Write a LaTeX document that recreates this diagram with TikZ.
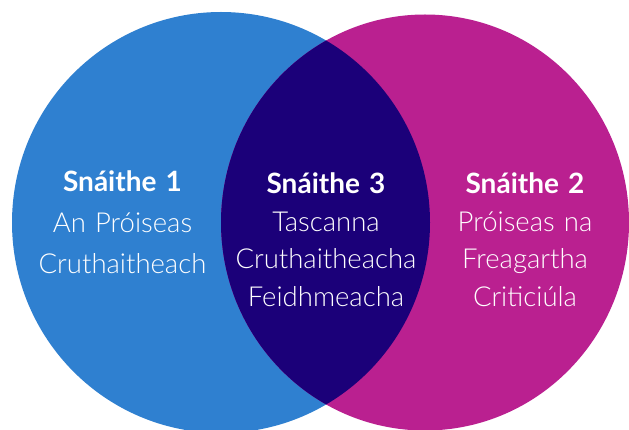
\documentclass[tikz,border=0pt]{standalone}
\usepackage{fontspec}
\setmainfont{Lato}
\newfontfamily\lightfont{Lato Light}
\definecolor{vblue}{HTML}{2F80D0}
\definecolor{vmagenta}{HTML}{BA2090}
\definecolor{vnavy}{HTML}{1B0079}
\tikzset{
  lbl/.style={text=white, text width=220pt, align=center, anchor=base, inner sep=0pt,
    font=\lightfont\fontsize{27.5}{37.5}\selectfont},
  lblwide/.style={lbl, font=\lightfont\fontsize{27.5}{41}\selectfont}
}
\newcommand{\ttl}[1]{{\normalfont\bfseries\fontsize{28}{37.5}\selectfont #1}}
\begin{document}
\begin{tikzpicture}[x=1pt,y=-1pt]
\useasboundingbox (0,0) rectangle (629,430);
\fill[white] (0,0) rectangle (629,430);
\path[fill=vblue] (221,222.5) ellipse [x radius=209, y radius=210.5];
\path[fill=vmagenta] (425,222.5) ellipse [x radius=204, y radius=208];
\begin{scope}
  \clip (221,222.5) ellipse [x radius=209, y radius=210.5];
  \path[fill=vnavy] (425,222.5) ellipse [x radius=204, y radius=208];
\end{scope}
\node[lblwide] (s1) at (122.5,192) {\ttl{Snáithe 1}\\An Próiseas\\Cruthaitheach};
\node[lbl] (s3) at (326,194) {\ttl{Snáithe 3}\\Tascanna\\Cruthaitheacha\\Feidhmeacha};
\node[lbl] (s2) at (525,194) {\ttl{Snáithe 2}\\Próiseas na\\Freagartha\\Criticiúla};
\end{tikzpicture}
\end{document}
